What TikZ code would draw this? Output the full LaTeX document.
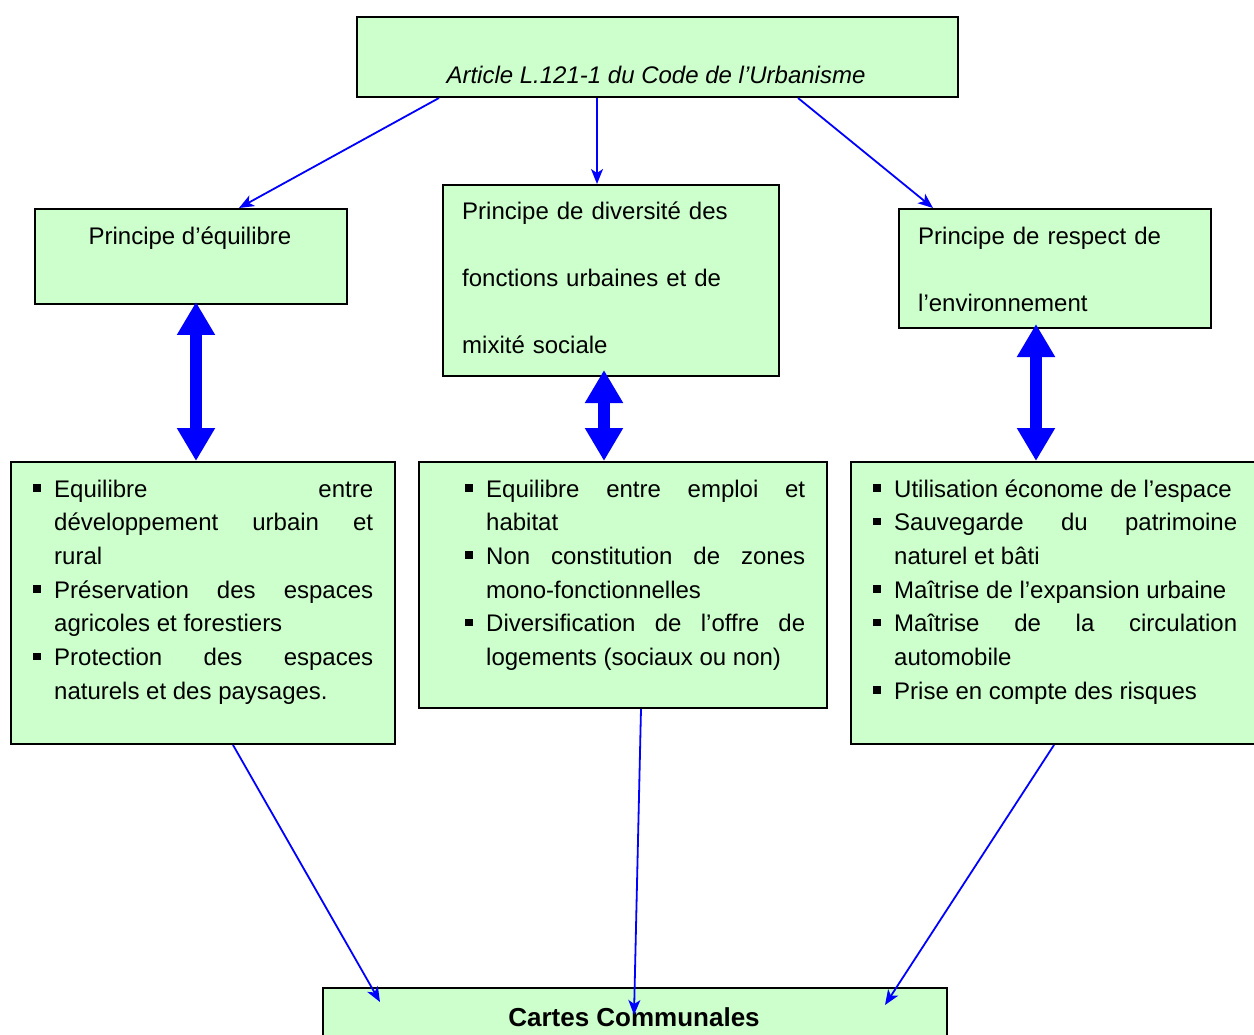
\documentclass[tikz,border=0pt]{standalone}
\usepackage{fontspec}
\setmainfont{Liberation Sans}
\usetikzlibrary{arrows.meta}

\definecolor{vertclair}{HTML}{CCFFCC}
\definecolor{bleu}{HTML}{0000FF}

\hyphenpenalty=10000
\exhyphenpenalty=10000
\emergencystretch=300pt

\newcommand{\puce}{\noindent\hangindent=21pt\hangafter=1\makebox[21pt][l]{\rule[5.5pt]{7.5pt}{7.5pt}}\ignorespaces}

\begin{document}
\begin{tikzpicture}[x=1pt, y=-1pt]

\tikzset{
  cadre/.style={draw, rectangle, line width=2pt, fill=vertclair, inner sep=0pt, anchor=north west},
  texte/.style={inner sep=0pt, font=\fontsize{24}{33.7}\selectfont},
  ligne/.style={texte, text width=320pt, align=left, anchor=base west, font=\fontsize{24}{67}\selectfont},
  puces/.style={texte, text width=340pt, align=justify, anchor=base west},
  lien/.style={-{Stealth[length=15pt, width=12pt, inset=4pt]}, draw=bleu, line width=1.8pt},
  fleche/.style={{Triangle[length=33pt, width=36pt]}-{Triangle[length=33pt, width=36pt]}, draw=bleu, line width=12pt}
}

\useasboundingbox (0,0) rectangle (1254,1035);

% Article
\node[cadre, minimum width=601pt, minimum height=80pt] (article) at (356,16) {};
\node[texte, anchor=base] (articletxt) at (656,84) {\itshape Article L.121-1 du Code de l’Urbanisme};

% Principes
\node[cadre, minimum width=312pt, minimum height=95pt] (equi) at (34,208) {};
\node[texte, anchor=base] (equitxt) at (190,245) {Principe d’équilibre};

\node[cadre, minimum width=336pt, minimum height=191pt] (divers) at (442,184) {};
\node[ligne] (diverstxt) at (462,220) {Principe de diversité des\\ fonctions urbaines et de\\ mixité sociale};

\node[cadre, minimum width=312pt, minimum height=119pt] (envir) at (898,208) {};
\node[ligne] (envirtxt) at (918,245) {Principe de respect de\\ l’environnement};

% Objectifs
\node[cadre, minimum width=384pt, minimum height=282pt] (equib) at (10,461) {};
\node[puces] (equibtxt) at (33,497) {%
  \puce Equilibre entre\linebreak développement urbain et\linebreak rural\par
  \puce Préservation des espaces agricoles et forestiers\par
  \puce Protection des espaces naturels et des paysages.\par};

\node[cadre, minimum width=408pt, minimum height=246pt] (diversb) at (418,461) {};
\node[puces] (diversbtxt) at (465,497) {%
  \puce Equilibre entre emploi et habitat\par
  \puce Non constitution de zones mono-fonctionnelles\par
  \puce Diversification de l’offre de logements (sociaux ou non)\par};

\node[cadre, minimum width=408pt, minimum height=282pt] (envirb) at (850,461) {};
\node[puces, text width=364pt] (envirbtxt) at (873,497) {%
  \puce Utilisation économe de l’espace\par
  \puce Sauvegarde du patrimoine naturel et bâti\par
  \puce Maîtrise de l’expansion urbaine\par
  \puce Maîtrise de la circulation automobile\par
  \puce Prise en compte des risques\par};

% Cartes
\node[cadre, minimum width=624pt, minimum height=100pt] (cartes) at (322,987) {};
\node[texte, anchor=base, font=\fontsize{26}{30}\selectfont\bfseries] (cartestxt) at (634,1026) {Cartes Communales};

\coordinate (versgauche) at (380,1002);
\coordinate (verscentre) at (634,1015);
\coordinate (versdroite) at (885,1005);

% Liens
\draw[lien] ([xshift=-218.5pt]article.south) -- ([xshift=48pt]equi.north);
\draw[lien] ([xshift=-60.5pt]article.south) -- ([xshift=-14pt]divers.north);
\draw[lien] ([xshift=140.5pt]article.south) -- ([xshift=-122pt]envir.north);

\draw[fleche] ([xshift=5pt, yshift=3pt]equi.south) -- ([xshift=5pt]equi.south |- equib.north);
\draw[fleche] ([xshift=-7pt, yshift=7pt]divers.south) -- ([xshift=-7pt]divers.south |- diversb.north);
\draw[fleche] ([xshift=-19pt, yshift=5pt]envir.south) -- ([xshift=-19pt]envir.south |- envirb.north);

\draw[lien] ([xshift=30pt]equib.south) -- (versgauche);
\draw[lien] ([xshift=18pt]diversb.south) -- (verscentre);
\draw[lien] ([xshift=-1pt]envirb.south) -- (versdroite);

\end{tikzpicture}
\end{document}
